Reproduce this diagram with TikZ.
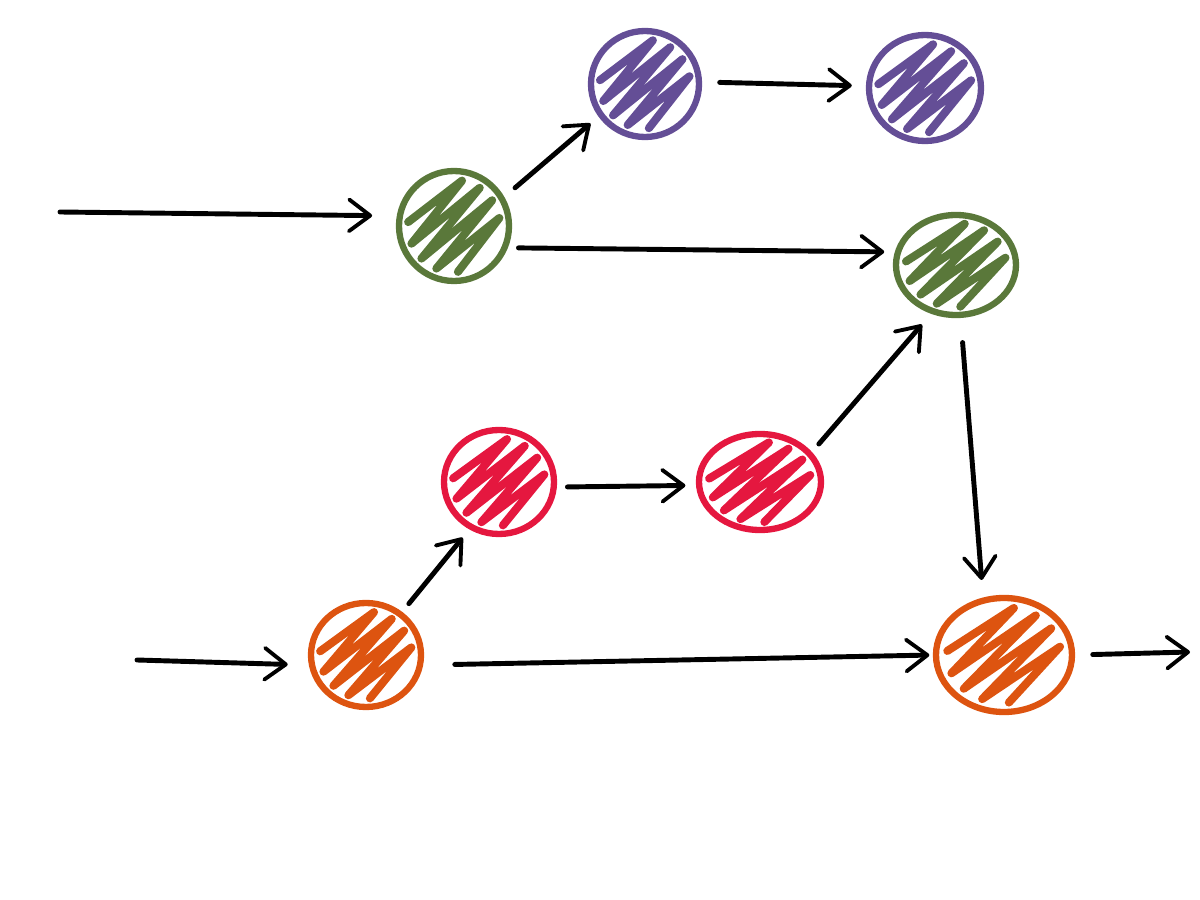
\documentclass[tikz,border=0pt]{standalone}
\usepackage{xcolor}
\usetikzlibrary{shapes.geometric, arrows.meta, calc}
\definecolor{leafgreen}{HTML}{5A783A}
\definecolor{plumcolor}{HTML}{644E96}
\definecolor{redcolor}{HTML}{E5173F}
\definecolor{rustcolor}{HTML}{DD5410}

\begin{document}
\begin{tikzpicture}[
    declare function={tt(\k)=-0.64+0.16*\k; ll(\k)=-cos(180*\k)*sqrt(0.7-tt(\k)*tt(\k));},
    blob/.style n args={3}{ellipse, draw=#1, line width=1.8pt, inner sep=0pt,
        minimum width=2*#2cm, minimum height=2*#3cm,
        path picture={
            \begin{scope}[shift={(path picture bounding box.center)}, x=#2cm, y=#3cm]
            \draw[#1, line width=2.3pt, line cap=round, line join=round]
                plot[samples at={0,...,8}, variable=\k] ({0.7071*(ll(\k)+tt(\k))}, {0.7071*(ll(\k)-tt(\k))});
            \end{scope}
        }},
    arr/.style={line width=1.4pt, line cap=round, -{Straight Barb[length=6pt, width=9pt, line width=1.1pt, round]},
        shorten >=3pt, shorten <=3pt}
]
\useasboundingbox (0,0) rectangle (12,9);

% -- TOP: green / purple branch --
\coordinate (in1) at (0.60,6.88);
\node[blob={leafgreen}{0.55}{0.55}] (g1) at (4.54,6.74) {};
\node[blob={plumcolor}{0.54}{0.53}] (p1) at (6.45,8.16) {};
\node[blob={plumcolor}{0.56}{0.53}] (p2) at (9.25,8.12) {};
\node[blob={leafgreen}{0.60}{0.50}] (g2) at (9.56,6.35) {};

\draw[arr, shorten <=0pt, shorten >=7pt] (in1) -- (g1.170);
\draw[arr, shorten <=4pt] (g1.30) -- (p1.215);
\draw[arr, shorten <=5pt, shorten >=4pt] (p1.2) -- (p2.178);
\draw[arr] (g1.-22) -- (g2.168);

% -- MIDDLE: red branch --
\node[blob={redcolor}{0.55}{0.52}] (r1) at (4.99,4.18) {};
\node[blob={redcolor}{0.61}{0.48}] (r2) at (7.60,4.18) {};

\draw[arr] (r1.-5) -- (r2.183);
\draw[arr, shorten >=4pt] (r2.30) -- (g2.243);

% -- BOTTOM: orange line --
\coordinate (in2) at (1.37,2.40);
\coordinate (out) at (11.90,2.48);
\node[blob={rustcolor}{0.55}{0.52}] (o1) at (3.66,2.45) {};
\node[blob={rustcolor}{0.68}{0.57}] (o2) at (10.04,2.45) {};

\draw[arr, shorten <=0pt, shorten >=6pt] (in2) -- (o1.190);
\draw[arr] (o1.50) -- (r1.238);
\draw[arr, shorten <=9pt, shorten >=1pt] (o1.-10) -- (o2.180);
\draw[arr, shorten <=7pt, shorten >=5pt] (g2.275) -- (o2.110);
\draw[arr, shorten <=5pt, shorten >=0pt] (o2.east) -- (out);

\end{tikzpicture}
\end{document}
